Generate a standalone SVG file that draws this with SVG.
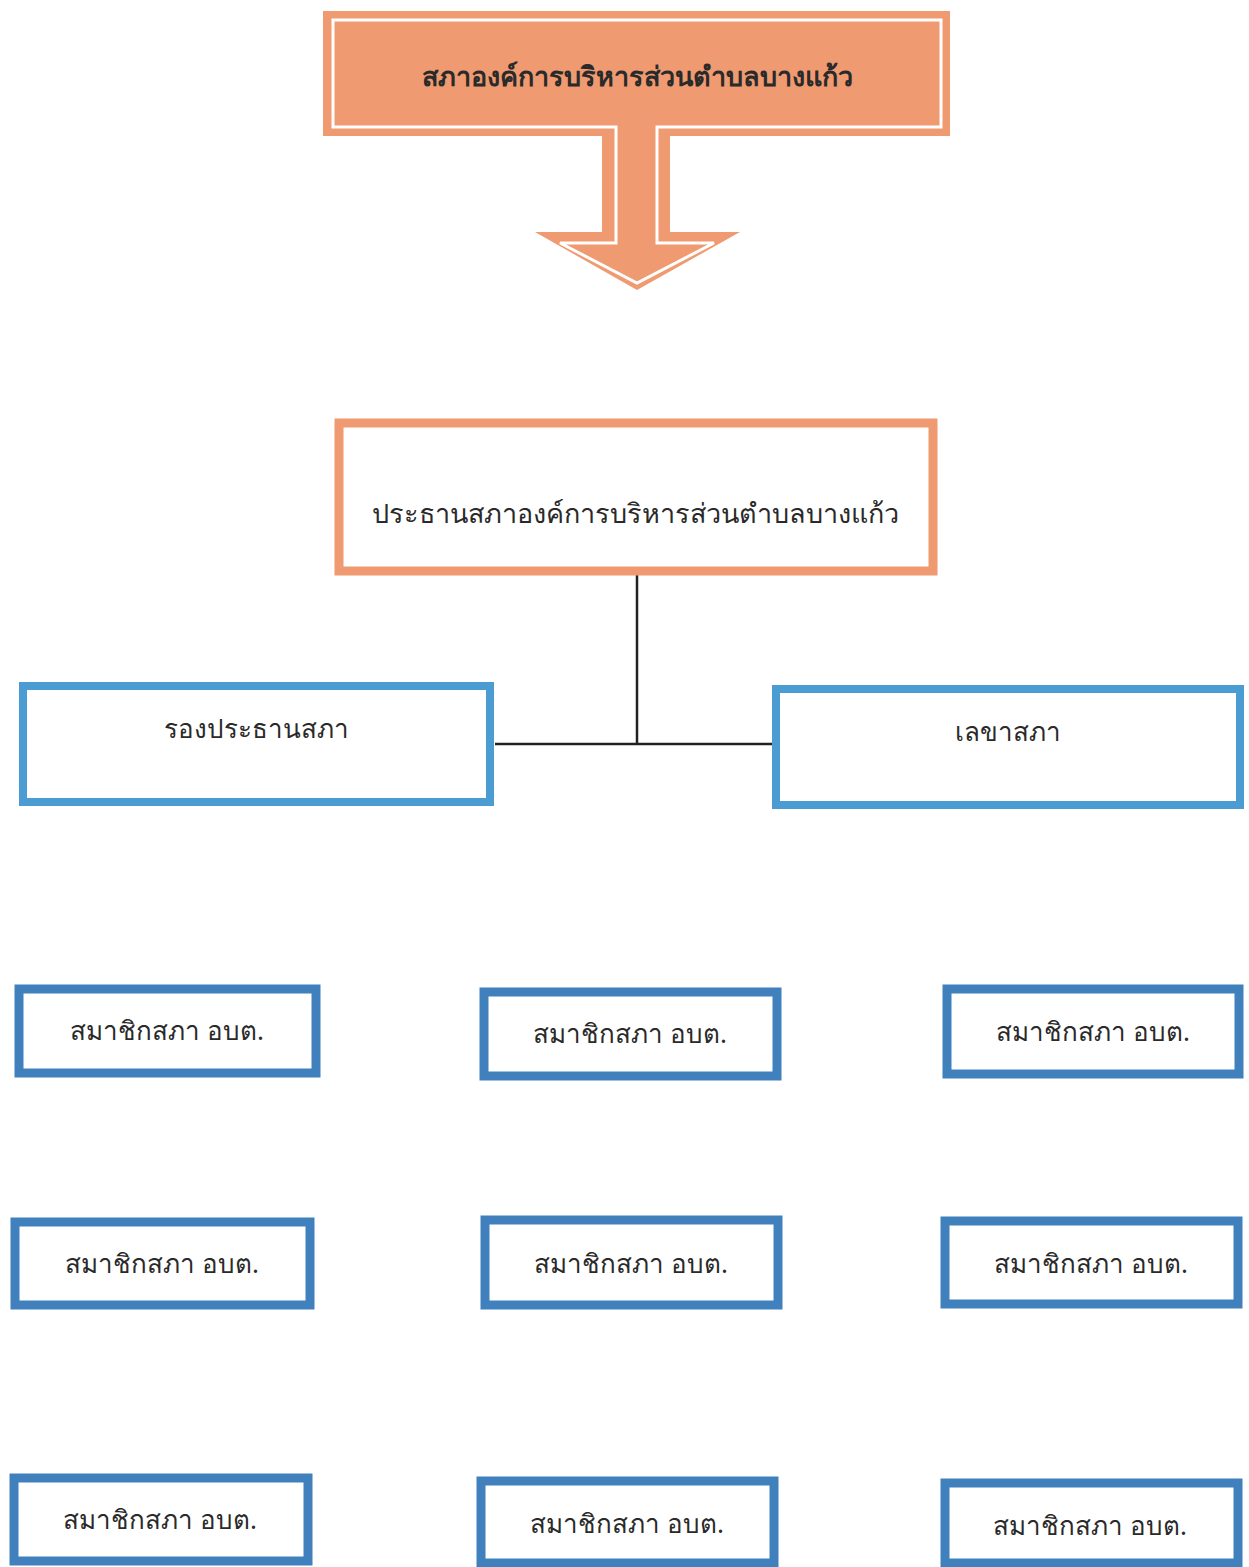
<svg xmlns="http://www.w3.org/2000/svg" width="1249" height="1567" viewBox="0 0 1249 1567">
<style>
text{font-family:"Noto Sans","DejaVu Sans","Liberation Sans",sans-serif;fill:#2a2a2a;text-anchor:middle;dominant-baseline:central}
.blue{fill:#fff;stroke:#4a9cd2;stroke-width:8}
.mem{fill:#fff;stroke:#3f80bd;stroke-width:9}
.org{fill:#fff;stroke:#ef9a70;stroke-width:9}
.conn{stroke:#222;stroke-width:2.5;fill:none}
.t1{font-size:27px}
.t2{font-size:26px}
</style>
<rect width="1249" height="1567" fill="#fff"/>
<g id="top-arrow">
<polygon points="323,11 950,11 950,136 670,136 670,232 740,232 637,290 535,232 602,232 602,136 323,136" fill="#ef9a70"/>
<polygon points="333,20 941,20 941,127 657,127 657,243 714,243 637,283 560,243 616,243 616,127 333,127" fill="none" stroke="#fff" stroke-width="3"/>
<text x="637" y="75" class="t1" style="font-weight:bold">สภาองค์การบริหารส่วนตำบลบางแก้ว</text>
</g>
<g id="connectors">
<line class="conn" x1="637" y1="575" x2="637" y2="745"/>
<line class="conn" x1="495" y1="744" x2="773" y2="744"/>
</g>
<g id="president">
<rect class="org" x="339" y="423" width="594" height="148"/>
<text x="635" y="512" class="t1">ประธานสภาองค์การบริหารส่วนตำบลบางแก้ว</text>
</g>
<g id="vice">
<rect class="blue" x="23" y="686" width="467" height="116"/>
<text x="256" y="728" class="t2">รองประธานสภา</text>
</g>
<g id="secretary">
<rect class="blue" x="776" y="689" width="464" height="116"/>
<text x="1008" y="731" class="t2">เลขาสภา</text>
</g>
<g id="m1"><rect class="mem" x="19" y="989" width="297" height="84"/><text x="167" y="1030" class="t2">สมาชิกสภา อบต.</text></g>
<g id="m2"><rect class="mem" x="484" y="992" width="293" height="84"/><text x="630" y="1033" class="t2">สมาชิกสภา อบต.</text></g>
<g id="m3"><rect class="mem" x="947" y="989" width="292" height="85"/><text x="1093" y="1031" class="t2">สมาชิกสภา อบต.</text></g>
<g id="m4"><rect class="mem" x="15" y="1222" width="295" height="83"/><text x="162" y="1263" class="t2">สมาชิกสภา อบต.</text></g>
<g id="m5"><rect class="mem" x="485" y="1220" width="293" height="85"/><text x="631" y="1263" class="t2">สมาชิกสภา อบต.</text></g>
<g id="m6"><rect class="mem" x="945" y="1221" width="293" height="83"/><text x="1091" y="1263" class="t2">สมาชิกสภา อบต.</text></g>
<g id="m7"><rect class="mem" x="14" y="1478" width="294" height="83"/><text x="160" y="1519" class="t2">สมาชิกสภา อบต.</text></g>
<g id="m8"><rect class="mem" x="481" y="1481" width="293" height="82"/><text x="627" y="1523" class="t2">สมาชิกสภา อบต.</text></g>
<g id="m9"><rect class="mem" x="945" y="1483" width="293" height="80"/><text x="1090" y="1525" class="t2">สมาชิกสภา อบต.</text></g>
</svg>
